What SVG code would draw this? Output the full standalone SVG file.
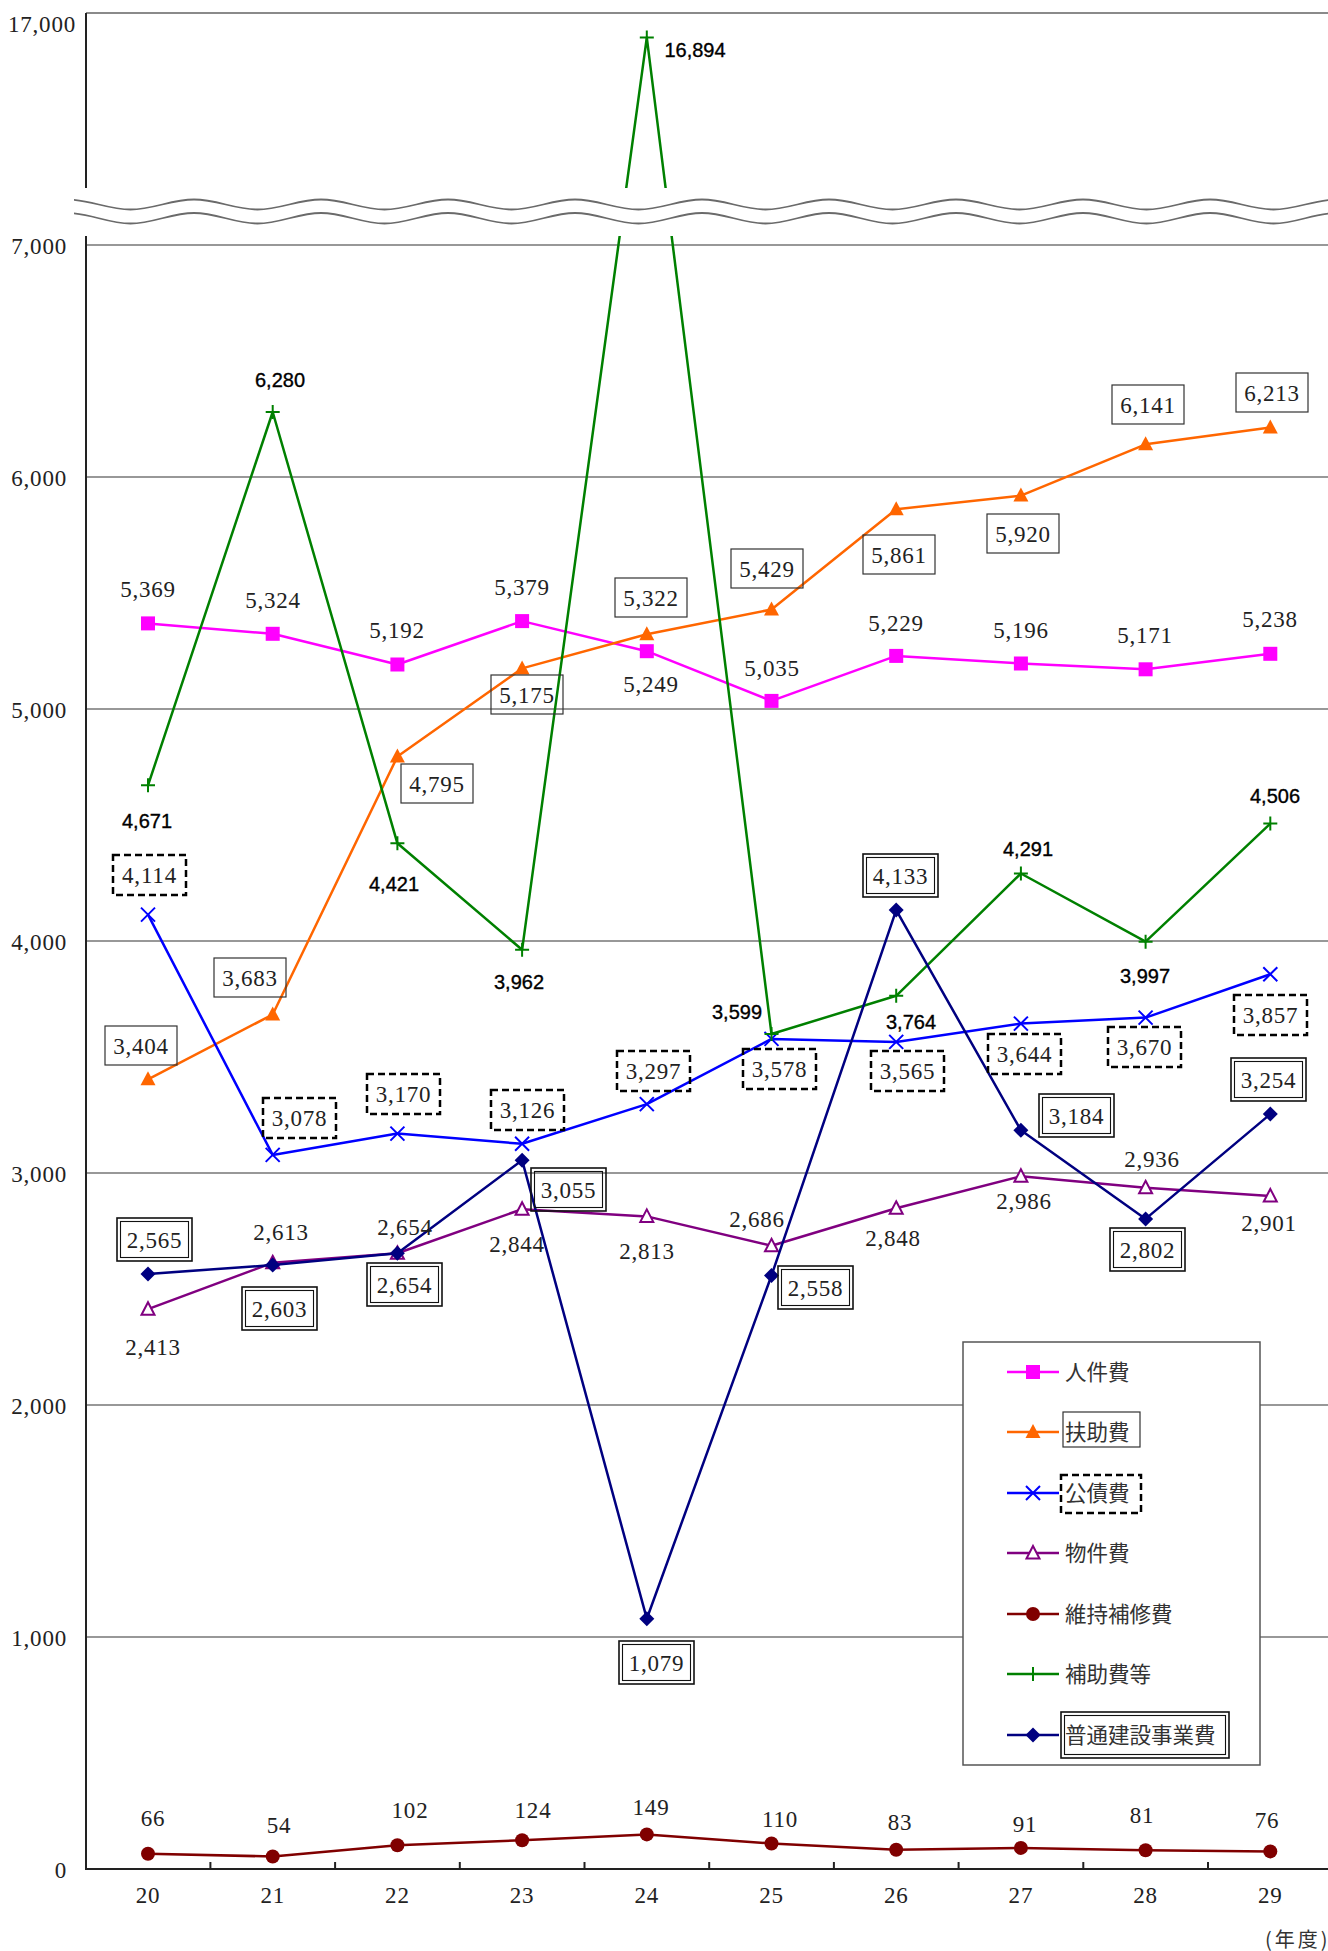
<svg xmlns="http://www.w3.org/2000/svg" xmlns:xlink="http://www.w3.org/1999/xlink" width="1328" height="1951" viewBox="0 0 1328 1951">
<style>
.grid{stroke:#767676;stroke-width:1.5;fill:none}
.axis{stroke:#222;stroke-width:2;fill:none}
.s{fill:none;stroke-width:2.5;stroke-linejoin:round}
.v{font-family:"Liberation Serif","Times New Roman",serif;font-size:23px;fill:#222;text-anchor:middle;letter-spacing:0.8px}
.ya{font-family:"Liberation Serif","Times New Roman",serif;font-size:23px;fill:#222;text-anchor:end;letter-spacing:0.8px}
.g{font-family:"Liberation Sans",Arial,sans-serif;font-size:20px;fill:#000;stroke:#000;stroke-width:0.35;text-anchor:middle}
.bx{fill:none;stroke:#333;stroke-width:1.2}
.dbx{fill:none;stroke:#000;stroke-width:2.5;stroke-dasharray:7 4}
.db{fill:none;stroke:#111;stroke-width:1.6}
.dbi{fill:none;stroke:#111;stroke-width:1.1}
.lg{font-family:"Noto Sans CJK JP","Noto Sans CJK SC",sans-serif;font-size:21.5px;fill:#333}
.wave{fill:none;stroke:#6a6a6a;stroke-width:1.8}
</style>
<defs>
<rect id="mSq" x="-7" y="-7" width="14" height="14" fill="#FF00FF"/>
<path id="mTri" d="M0,-8 L7.5,6 L-7.5,6 Z" fill="#FF6600"/>
<path id="mX" d="M-7,-7 L7,7 M-7,7 L7,-7" stroke="#0000FF" stroke-width="2" fill="none"/>
<path id="mOT" d="M0,-7 L6.5,5.5 L-6.5,5.5 Z" fill="#fff" stroke="#800080" stroke-width="2"/>
<circle id="mC" r="7" fill="#800000"/>
<path id="mP" d="M-7,0 L7,0 M0,-7 L0,7" stroke="#008000" stroke-width="2" fill="none"/>
<path id="mD" d="M0,-7.5 L7.5,0 L0,7.5 L-7.5,0 Z" fill="#000080"/>
<clipPath id="bandClip"><rect x="74" y="180" width="1254" height="60"/></clipPath>
</defs>
<rect width="1328" height="1951" fill="#fff"/>

<g id="gridlines">
<line x1="86" y1="13" x2="1328" y2="13" style="stroke:#8a8a8a;stroke-width:2"/>
<line class="grid" x1="86" y1="245" x2="1328" y2="245"/>
<line class="grid" x1="86" y1="477" x2="1328" y2="477"/>
<line class="grid" x1="86" y1="709" x2="1328" y2="709"/>
<line class="grid" x1="86" y1="941" x2="1328" y2="941"/>
<line class="grid" x1="86" y1="1173" x2="1328" y2="1173"/>
<line class="grid" x1="86" y1="1405" x2="1328" y2="1405"/>
<line class="grid" x1="86" y1="1637" x2="1328" y2="1637"/>
</g>

<g id="axes">
<line class="axis" x1="86" y1="13" x2="86" y2="1869"/>
<line class="axis" x1="85" y1="1869" x2="1328" y2="1869"/>
<path class="axis" d="M210.4,1862V1869M335.1,1862V1869M459.8,1862V1869M584.5,1862V1869M709.2,1862V1869M833.9,1862V1869M958.6,1862V1869M1083.3,1862V1869M1208,1862V1869"/>
</g>

<g id="y-labels">
<text class="ya" x="76" y="32">17,000</text>
<text class="ya" x="67" y="254">7,000</text>
<text class="ya" x="67" y="486">6,000</text>
<text class="ya" x="67" y="718">5,000</text>
<text class="ya" x="67" y="950">4,000</text>
<text class="ya" x="67" y="1182">3,000</text>
<text class="ya" x="67" y="1414">2,000</text>
<text class="ya" x="67" y="1646">1,000</text>
<text class="ya" x="67" y="1878">0</text>
</g>

<g id="x-labels">
<text class="v" x="148" y="1903">20</text>
<text class="v" x="272.7" y="1903">21</text>
<text class="v" x="397.4" y="1903">22</text>
<text class="v" x="522.1" y="1903">23</text>
<text class="v" x="646.8" y="1903">24</text>
<text class="v" x="771.5" y="1903">25</text>
<text class="v" x="896.2" y="1903">26</text>
<text class="v" x="1020.9" y="1903">27</text>
<text class="v" x="1145.6" y="1903">28</text>
<text class="v" x="1270.3" y="1903">29</text>
<text x="1265" y="1947" style="font-family:'Noto Sans CJK JP',sans-serif;font-size:20px;fill:#333;letter-spacing:3px">(年度)</text>
</g>

<g id="series-jinkenhi">
<polyline class="s" stroke="#FF00FF" points="148,623.4 272.7,633.8 397.4,664.5 522.1,621.1 646.8,651.2 771.5,700.9 896.2,655.9 1020.9,663.5 1145.6,669.3 1270.3,653.8"/>
<use href="#mSq" x="148" y="623.4"/><use href="#mSq" x="272.7" y="633.8"/><use href="#mSq" x="397.4" y="664.5"/><use href="#mSq" x="522.1" y="621.1"/><use href="#mSq" x="646.8" y="651.2"/><use href="#mSq" x="771.5" y="700.9"/><use href="#mSq" x="896.2" y="655.9"/><use href="#mSq" x="1020.9" y="663.5"/><use href="#mSq" x="1145.6" y="669.3"/><use href="#mSq" x="1270.3" y="653.8"/>
</g>

<g id="series-fujohi">
<polyline class="s" stroke="#FF6600" points="148,1079.3 272.7,1014.5 397.4,756.6 522.1,668.4 646.8,634.3 771.5,609.5 896.2,509.2 1020.9,495.6 1145.6,444.3 1270.3,427.6"/>
<use href="#mTri" x="148" y="1079.3"/><use href="#mTri" x="272.7" y="1014.5"/><use href="#mTri" x="397.4" y="756.6"/><use href="#mTri" x="522.1" y="668.4"/><use href="#mTri" x="646.8" y="634.3"/><use href="#mTri" x="771.5" y="609.5"/><use href="#mTri" x="896.2" y="509.2"/><use href="#mTri" x="1020.9" y="495.6"/><use href="#mTri" x="1145.6" y="444.3"/><use href="#mTri" x="1270.3" y="427.6"/>
</g>

<g id="series-kosaihi">
<polyline class="s" stroke="#0000FF" points="148,914.6 272.7,1154.9 397.4,1133.6 522.1,1143.8 646.8,1104.1 771.5,1038.9 896.2,1041.9 1020.9,1023.6 1145.6,1017.6 1270.3,974.2"/>
<use href="#mX" x="148" y="914.6"/><use href="#mX" x="272.7" y="1154.9"/><use href="#mX" x="397.4" y="1133.6"/><use href="#mX" x="522.1" y="1143.8"/><use href="#mX" x="646.8" y="1104.1"/><use href="#mX" x="771.5" y="1038.9"/><use href="#mX" x="896.2" y="1041.9"/><use href="#mX" x="1020.9" y="1023.6"/><use href="#mX" x="1145.6" y="1017.6"/><use href="#mX" x="1270.3" y="974.2"/>
</g>

<g id="series-bukkenhi">
<polyline class="s" stroke="#800080" points="148,1309.2 272.7,1262.8 397.4,1253.3 522.1,1209.2 646.8,1216.4 771.5,1245.8 896.2,1208.3 1020.9,1176.2 1145.6,1187.8 1270.3,1196"/>
<use href="#mOT" x="148" y="1309.2"/><use href="#mOT" x="272.7" y="1262.8"/><use href="#mOT" x="397.4" y="1253.3"/><use href="#mOT" x="522.1" y="1209.2"/><use href="#mOT" x="646.8" y="1216.4"/><use href="#mOT" x="771.5" y="1245.8"/><use href="#mOT" x="896.2" y="1208.3"/><use href="#mOT" x="1020.9" y="1176.2"/><use href="#mOT" x="1145.6" y="1187.8"/><use href="#mOT" x="1270.3" y="1196"/>
</g>

<g id="series-ijihoshuhi">
<polyline class="s" stroke="#800000" points="148,1853.7 272.7,1856.5 397.4,1845.3 522.1,1840.2 646.8,1834.4 771.5,1843.5 896.2,1849.7 1020.9,1847.9 1145.6,1850.2 1270.3,1851.4"/>
<use href="#mC" x="148" y="1853.7"/><use href="#mC" x="272.7" y="1856.5"/><use href="#mC" x="397.4" y="1845.3"/><use href="#mC" x="522.1" y="1840.2"/><use href="#mC" x="646.8" y="1834.4"/><use href="#mC" x="771.5" y="1843.5"/><use href="#mC" x="896.2" y="1849.7"/><use href="#mC" x="1020.9" y="1847.9"/><use href="#mC" x="1145.6" y="1850.2"/><use href="#mC" x="1270.3" y="1851.4"/>
</g>

<g id="series-hojohi">
<polyline class="s" stroke="#008000" points="148,785.3 272.7,412 397.4,843.3 522.1,949.8 646.8,37.6 771.5,1034 896.2,995.8 1020.9,873.5 1145.6,941.7 1270.3,823.6"/>
<use href="#mP" x="148" y="785.3"/><use href="#mP" x="272.7" y="412"/><use href="#mP" x="397.4" y="843.3"/><use href="#mP" x="522.1" y="949.8"/><use href="#mP" x="646.8" y="37.6"/><use href="#mP" x="771.5" y="1034"/><use href="#mP" x="896.2" y="995.8"/><use href="#mP" x="1020.9" y="873.5"/><use href="#mP" x="1145.6" y="941.7"/><use href="#mP" x="1270.3" y="823.6"/>
</g>

<g id="series-kensetsu">
<polyline class="s" stroke="#000080" points="148,1273.9 272.7,1265.1 397.4,1253.3 522.1,1160.2 646.8,1618.7 771.5,1275.5 896.2,910.1 1020.9,1130.3 1145.6,1218.9 1270.3,1114.1"/>
<use href="#mD" x="148" y="1273.9"/><use href="#mD" x="272.7" y="1265.1"/><use href="#mD" x="397.4" y="1253.3"/><use href="#mD" x="522.1" y="1160.2"/><use href="#mD" x="646.8" y="1618.7"/><use href="#mD" x="771.5" y="1275.5"/><use href="#mD" x="896.2" y="910.1"/><use href="#mD" x="1020.9" y="1130.3"/><use href="#mD" x="1145.6" y="1218.9"/><use href="#mD" x="1270.3" y="1114.1"/>
</g>

<g id="axis-break" clip-path="url(#bandClip)">
<rect x="74" y="188" width="1254" height="48" fill="#fff"/>
<path class="wave" d="M67,199.5 c23.1,0 40.4,10 63.5,10 s40.4,-10 63.5,-10 s40.4,10 63.5,10 s40.4,-10 63.5,-10 s40.4,10 63.5,10 s40.4,-10 63.5,-10 s40.4,10 63.5,10 s40.4,-10 63.5,-10 s40.4,10 63.5,10 s40.4,-10 63.5,-10 s40.4,10 63.5,10 s40.4,-10 63.5,-10 s40.4,10 63.5,10 s40.4,-10 63.5,-10 s40.4,10 63.5,10 s40.4,-10 63.5,-10 s40.4,10 63.5,10 s40.4,-10 63.5,-10 s40.4,10 63.5,10 s40.4,-10 63.5,-10 s40.4,10 63.5,10"/>
<path class="wave" d="M67,213 c23.1,0 40.4,10.5 63.5,10.5 s40.4,-10.5 63.5,-10.5 s40.4,10.5 63.5,10.5 s40.4,-10.5 63.5,-10.5 s40.4,10.5 63.5,10.5 s40.4,-10.5 63.5,-10.5 s40.4,10.5 63.5,10.5 s40.4,-10.5 63.5,-10.5 s40.4,10.5 63.5,10.5 s40.4,-10.5 63.5,-10.5 s40.4,10.5 63.5,10.5 s40.4,-10.5 63.5,-10.5 s40.4,10.5 63.5,10.5 s40.4,-10.5 63.5,-10.5 s40.4,10.5 63.5,10.5 s40.4,-10.5 63.5,-10.5 s40.4,10.5 63.5,10.5 s40.4,-10.5 63.5,-10.5 s40.4,10.5 63.5,10.5 s40.4,-10.5 63.5,-10.5 s40.4,10.5 63.5,10.5"/>
</g>

<g id="labels-jinkenhi">
<text class="v" x="148" y="597">5,369</text>
<text class="v" x="273" y="608">5,324</text>
<text class="v" x="397" y="638">5,192</text>
<text class="v" x="522" y="595">5,379</text>
<text class="v" x="651" y="692">5,249</text>
<text class="v" x="772" y="676">5,035</text>
<text class="v" x="896" y="631">5,229</text>
<text class="v" x="1021" y="638">5,196</text>
<text class="v" x="1145" y="643">5,171</text>
<text class="v" x="1270" y="627">5,238</text>
</g>

<g id="labels-fujohi">
<rect class="bx" x="105" y="1026" width="72" height="39"/><text class="v" x="141" y="1054">3,404</text>
<rect class="bx" x="214" y="958" width="72" height="39"/><text class="v" x="250" y="986">3,683</text>
<rect class="bx" x="401" y="764" width="72" height="39"/><text class="v" x="437" y="792">4,795</text>
<rect class="bx" x="491" y="675" width="72" height="39"/><text class="v" x="527" y="703">5,175</text>
<rect class="bx" x="615" y="578" width="72" height="39"/><text class="v" x="651" y="606">5,322</text>
<rect class="bx" x="731" y="549" width="72" height="39"/><text class="v" x="767" y="577">5,429</text>
<rect class="bx" x="863" y="535" width="72" height="39"/><text class="v" x="899" y="563">5,861</text>
<rect class="bx" x="987" y="514" width="72" height="39"/><text class="v" x="1023" y="542">5,920</text>
<rect class="bx" x="1112" y="385" width="72" height="39"/><text class="v" x="1148" y="413">6,141</text>
<rect class="bx" x="1236" y="373" width="72" height="39"/><text class="v" x="1272" y="401">6,213</text>
</g>

<g id="labels-kosaihi">
<rect class="dbx" x="113" y="855" width="73" height="40"/><text class="v" x="149.5" y="883">4,114</text>
<rect class="dbx" x="263" y="1098" width="73" height="40"/><text class="v" x="299.5" y="1126">3,078</text>
<rect class="dbx" x="367" y="1074" width="73" height="40"/><text class="v" x="403.5" y="1102">3,170</text>
<rect class="dbx" x="491" y="1090" width="73" height="40"/><text class="v" x="527.5" y="1118">3,126</text>
<rect class="dbx" x="617" y="1051" width="73" height="40"/><text class="v" x="653.5" y="1079">3,297</text>
<rect class="dbx" x="743" y="1049" width="73" height="40"/><text class="v" x="779.5" y="1077">3,578</text>
<rect class="dbx" x="871" y="1051" width="73" height="40"/><text class="v" x="907.5" y="1079">3,565</text>
<rect class="dbx" x="988" y="1034" width="73" height="40"/><text class="v" x="1024.5" y="1062">3,644</text>
<rect class="dbx" x="1108" y="1027" width="73" height="40"/><text class="v" x="1144.5" y="1055">3,670</text>
<rect class="dbx" x="1234" y="995" width="73" height="40"/><text class="v" x="1270.5" y="1023">3,857</text>
</g>

<g id="labels-bukkenhi">
<text class="v" x="153" y="1355">2,413</text>
<text class="v" x="281" y="1240">2,613</text>
<text class="v" x="405" y="1235">2,654</text>
<text class="v" x="517" y="1252">2,844</text>
<text class="v" x="647" y="1259">2,813</text>
<text class="v" x="757" y="1227">2,686</text>
<text class="v" x="893" y="1246">2,848</text>
<text class="v" x="1024" y="1209">2,986</text>
<text class="v" x="1152" y="1167">2,936</text>
<text class="v" x="1269" y="1231">2,901</text>
</g>

<g id="labels-ijihoshuhi">
<text class="v" x="153" y="1826">66</text>
<text class="v" x="279" y="1833">54</text>
<text class="v" x="410" y="1818">102</text>
<text class="v" x="533" y="1818">124</text>
<text class="v" x="651" y="1815">149</text>
<text class="v" x="780" y="1827">110</text>
<text class="v" x="900" y="1830">83</text>
<text class="v" x="1025" y="1832">91</text>
<text class="v" x="1142" y="1823">81</text>
<text class="v" x="1267" y="1828">76</text>
</g>

<g id="labels-hojohi">
<text class="g" x="147" y="828">4,671</text>
<text class="g" x="280" y="387">6,280</text>
<text class="g" x="394" y="891">4,421</text>
<text class="g" x="519" y="989">3,962</text>
<text class="g" x="695" y="57">16,894</text>
<text class="g" x="737" y="1019">3,599</text>
<text class="g" x="911" y="1029">3,764</text>
<text class="g" x="1028" y="856">4,291</text>
<text class="g" x="1145" y="983">3,997</text>
<text class="g" x="1275" y="803">4,506</text>
</g>

<g id="labels-kensetsu">
<rect class="db" x="117" y="1218" width="75" height="43"/><rect class="dbi" x="120.5" y="1221.5" width="68" height="36"/><text class="v" x="154.5" y="1248">2,565</text>
<rect class="db" x="242" y="1287" width="75" height="43"/><rect class="dbi" x="245.5" y="1290.5" width="68" height="36"/><text class="v" x="279.5" y="1317">2,603</text>
<rect class="db" x="367" y="1263" width="75" height="43"/><rect class="dbi" x="370.5" y="1266.5" width="68" height="36"/><text class="v" x="404.5" y="1293">2,654</text>
<rect class="db" x="531" y="1168" width="75" height="43"/><rect class="dbi" x="534.5" y="1171.5" width="68" height="36"/><text class="v" x="568.5" y="1198">3,055</text>
<rect class="db" x="619" y="1641" width="75" height="43"/><rect class="dbi" x="622.5" y="1644.5" width="68" height="36"/><text class="v" x="656.5" y="1671">1,079</text>
<rect class="db" x="778" y="1266" width="75" height="43"/><rect class="dbi" x="781.5" y="1269.5" width="68" height="36"/><text class="v" x="815.5" y="1296">2,558</text>
<rect class="db" x="863" y="854" width="75" height="43"/><rect class="dbi" x="866.5" y="857.5" width="68" height="36"/><text class="v" x="900.5" y="884">4,133</text>
<rect class="db" x="1039" y="1094" width="75" height="43"/><rect class="dbi" x="1042.5" y="1097.5" width="68" height="36"/><text class="v" x="1076.5" y="1124">3,184</text>
<rect class="db" x="1110" y="1228" width="75" height="43"/><rect class="dbi" x="1113.5" y="1231.5" width="68" height="36"/><text class="v" x="1147.5" y="1258">2,802</text>
<rect class="db" x="1231" y="1058" width="75" height="43"/><rect class="dbi" x="1234.5" y="1061.5" width="68" height="36"/><text class="v" x="1268.5" y="1088">3,254</text>
</g>

<g id="legend">
<rect x="963" y="1342" width="297" height="423" fill="#fff" stroke="#555" stroke-width="1.5"/>
<line x1="1007" y1="1372" x2="1059" y2="1372" stroke="#FF00FF" stroke-width="2.5"/><use href="#mSq" x="1033" y="1372"/>
<text class="lg" x="1065" y="1380">人件費</text>
<line x1="1007" y1="1432" x2="1059" y2="1432" stroke="#FF6600" stroke-width="2.5"/><use href="#mTri" x="1033" y="1432"/>
<rect class="bx" x="1063" y="1412" width="77" height="35"/><text class="lg" x="1065" y="1440">扶助費</text>
<line x1="1007" y1="1493" x2="1059" y2="1493" stroke="#0000FF" stroke-width="2.5"/><use href="#mX" x="1033" y="1493"/>
<rect class="dbx" x="1061" y="1475" width="80" height="38"/><text class="lg" x="1065" y="1501">公債費</text>
<line x1="1007" y1="1553" x2="1059" y2="1553" stroke="#800080" stroke-width="2.5"/><use href="#mOT" x="1033" y="1553"/>
<text class="lg" x="1065" y="1561">物件費</text>
<line x1="1007" y1="1614" x2="1059" y2="1614" stroke="#800000" stroke-width="2.5"/><use href="#mC" x="1033" y="1614"/>
<text class="lg" x="1065" y="1622">維持補修費</text>
<line x1="1007" y1="1674" x2="1059" y2="1674" stroke="#008000" stroke-width="2.5"/><use href="#mP" x="1033" y="1674"/>
<text class="lg" x="1065" y="1682">補助費等</text>
<line x1="1007" y1="1735" x2="1059" y2="1735" stroke="#000080" stroke-width="2.5"/><use href="#mD" x="1033" y="1735"/>
<rect class="db" x="1061" y="1712" width="168" height="46"/><rect class="dbi" x="1064.5" y="1715.5" width="161" height="39"/>
<text class="lg" x="1065" y="1743">普通建設事業費</text>
</g>
</svg>
